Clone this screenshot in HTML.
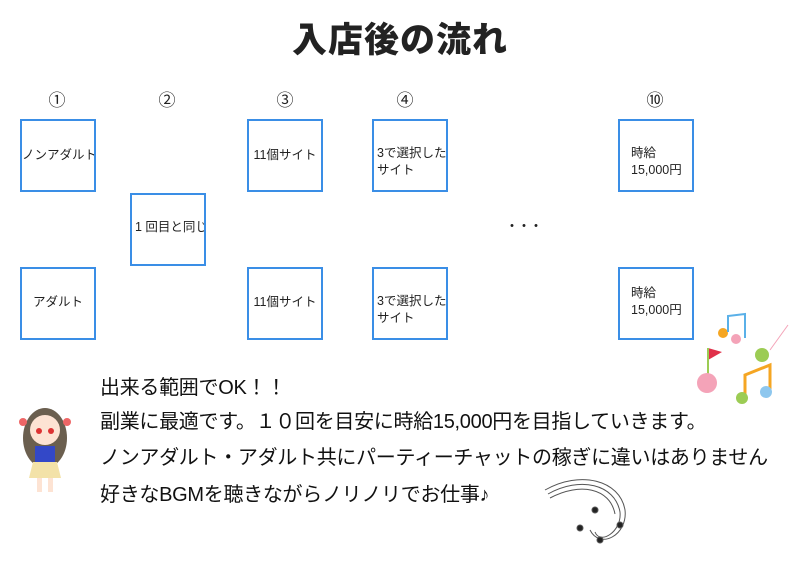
<!DOCTYPE html>
<html><head><meta charset="utf-8"><style>
body{margin:0;width:800px;height:561px;background:#fff;position:relative;overflow:hidden;font-family:"Liberation Sans","Noto Sans CJK JP",sans-serif;color:#222}
.a{position:absolute}
.b{position:absolute;width:72px;height:69px;border:2px solid #3a8ee6;font-size:12.5px;line-height:17px;box-sizing:content-box;white-space:nowrap;overflow:hidden}
.n{position:absolute;font-size:17px;transform:translateX(-50%);top:86px}
.t{position:absolute;left:100px;font-size:20px;white-space:nowrap;color:#111;letter-spacing:-0.3px}
</style></head><body>
<div class="a" style="left:0;width:800px;top:12px;text-align:center;font-size:35px;font-weight:900;letter-spacing:1px">入店後の流れ</div>
<div class="n" style="left:57px">①</div>
<div class="n" style="left:167px">②</div>
<div class="n" style="left:285px">③</div>
<div class="n" style="left:405px">④</div>
<div class="n" style="left:655px">⑩</div>

<div class="b" style="left:20px;top:119px"><div style="margin-top:26px">ノンアダルト</div></div>
<div class="b" style="left:20px;top:267px"><div style="margin-top:25px;text-align:center">アダルト</div></div>
<div class="b" style="left:130px;top:193px"><div style="margin-top:24px;padding-left:3px">1 回目と同じ</div></div>
<div class="b" style="left:247px;top:119px"><div style="margin-top:26px;text-align:center">11個サイト</div></div>
<div class="b" style="left:247px;top:267px"><div style="margin-top:25px;text-align:center">11個サイト</div></div>
<div class="b" style="left:372px;top:119px"><div style="margin-top:24px;padding-left:3px">3で選択した<br>サイト</div></div>
<div class="b" style="left:372px;top:267px"><div style="margin-top:24px;padding-left:3px">3で選択した<br>サイト</div></div>
<div class="b" style="left:618px;top:119px"><div style="margin-top:24px;padding-left:11px">時給<br>15,000円</div></div>
<div class="b" style="left:618px;top:267px"><div style="margin-top:16px;padding-left:11px">時給<br>15,000円</div></div>
<div class="a" style="left:505px;top:216px;font-size:14px;letter-spacing:-2px">・・・</div>

<div class="t" style="top:371px">出来る範囲でOK！！</div>
<div class="t" style="top:405px">副業に最適です。１０回を目安に時給15,000円を目指していきます。</div>
<div class="t" style="top:441px">ノンアダルト・アダルト共にパーティーチャットの稼ぎに違いはありません</div>
<div class="t" style="top:478px">好きなBGMを聴きながらノリノリでお仕事♪</div>

<svg class="a" style="left:15px;top:400px" width="60" height="100">
<ellipse cx="30" cy="38" rx="22" ry="30" fill="#6b5f4f"/>
<circle cx="30" cy="30" r="15" fill="#fde3d3"/>
<circle cx="24" cy="31" r="3" fill="#d33"/><circle cx="36" cy="31" r="3" fill="#d33"/>
<rect x="20" y="46" width="20" height="18" fill="#3348c8"/>
<path d="M18 62 L42 62 L46 78 L14 78Z" fill="#f3e2a8"/>
<rect x="22" y="78" width="5" height="14" fill="#fde3d3"/><rect x="33" y="78" width="5" height="14" fill="#fde3d3"/>
<circle cx="8" cy="22" r="4" fill="#e66"/><circle cx="52" cy="22" r="4" fill="#e66"/>
</svg>
<svg class="a" style="left:690px;top:310px" width="110" height="110">
<circle cx="33" cy="23" r="5" fill="#f5a623"/><circle cx="46" cy="29" r="5" fill="#f4a3b8"/>
<path d="M38 22 V6 L55 4 V28" stroke="#5ab0e8" stroke-width="2" fill="none"/>
<circle cx="72" cy="45" r="7" fill="#9ccc54"/>
<path d="M18 38 L32 42 L18 50Z" fill="#e0304a"/><line x1="18" y1="38" x2="18" y2="70" stroke="#9ccc54" stroke-width="2"/>
<circle cx="17" cy="73" r="10" fill="#f4a3b8"/>
<path d="M55 85 V65 L80 55 V80" stroke="#f5a623" stroke-width="3" fill="none"/>
<circle cx="52" cy="88" r="6" fill="#9ccc54"/><circle cx="76" cy="82" r="6" fill="#8ec7ee"/>
<line x1="80" y1="40" x2="98" y2="15" stroke="#f4a3b8" stroke-width="1"/>
</svg>
<svg class="a" style="left:540px;top:470px" width="100" height="85" fill="none" stroke="#555">
<path d="M5 20 C40 0 80 10 85 40 C88 65 60 80 50 60"/>
<path d="M8 24 C40 6 75 14 80 42 C82 62 60 75 55 62"/>
<path d="M10 28 C40 12 70 18 75 44"/>
<circle cx="40" cy="58" r="3" fill="#222"/><circle cx="60" cy="70" r="3" fill="#222"/><circle cx="80" cy="55" r="3" fill="#222"/><circle cx="55" cy="40" r="3" fill="#222"/>
</svg>
</body></html>
